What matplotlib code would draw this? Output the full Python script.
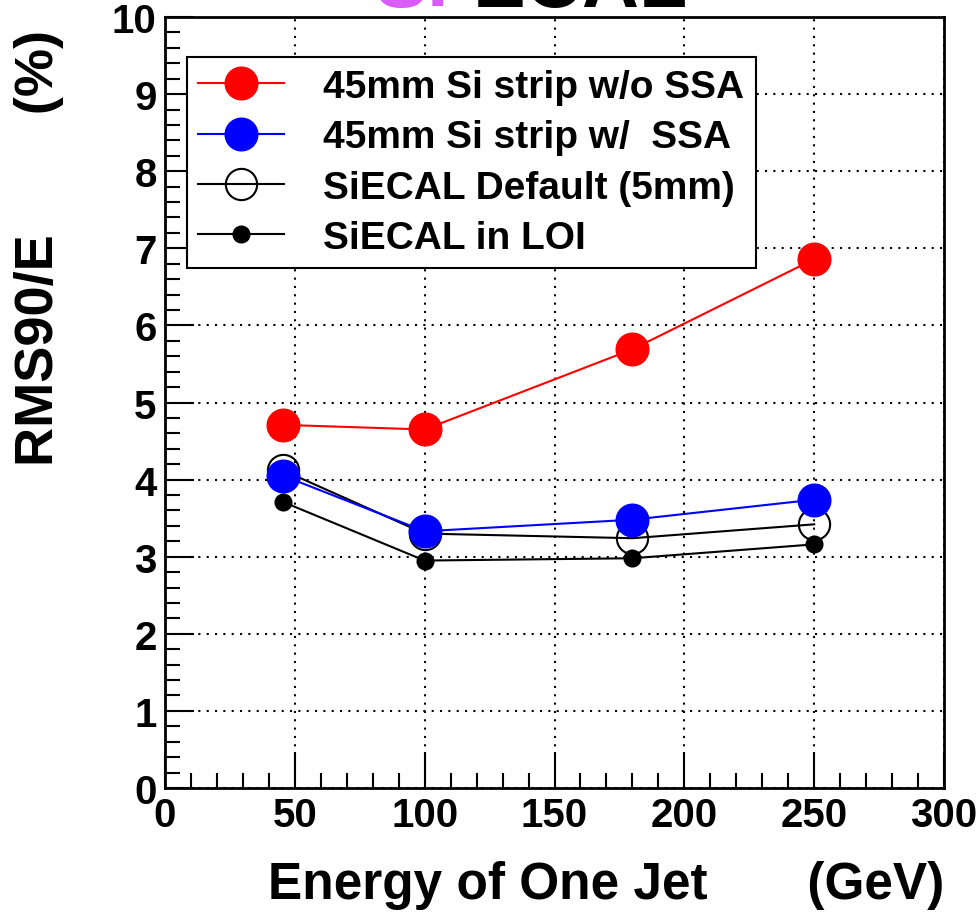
import matplotlib
matplotlib.use("Agg")
import matplotlib.pyplot as plt
from matplotlib.ticker import MultipleLocator

plt.rcParams["font.family"] = ["Liberation Sans", "DejaVu Sans"]
plt.rcParams["font.weight"] = "bold"

# jet energies (GeV)
energy = [45.5, 100, 180, 250]

# RMS90/E (%)
strip_no_ssa = [4.71, 4.65, 5.69, 6.86]
strip_ssa = [4.05, 3.33, 3.48, 3.74]
siecal_default = [4.12, 3.30, 3.24, 3.42]
siecal_loi = [3.71, 2.95, 2.98, 3.16]

labels = [
    "45mm Si strip w/o SSA",
    "45mm Si strip w/  SSA",
    "SiECAL Default (5mm)",
    "SiECAL in LOI",
]

fig = plt.figure(figsize=(9.79, 9.2), dpi=100)
ax = fig.add_axes([0.1685, 0.1424, 0.7958, 0.838])

h_loi, = ax.plot(energy, siecal_loi, color="black", lw=1.5, marker="o",
                 ms=12, mfc="black", mec="black", zorder=3)
h_def, = ax.plot(energy, siecal_default, color="black", lw=1.5, marker="o",
                 ms=22.5, mfc="none", mec="black", mew=1.5, zorder=4)
h_ssa, = ax.plot(energy, strip_ssa, color="blue", lw=1.5, marker="o",
                 ms=23.5, mfc="blue", mec="blue", zorder=5)
h_red, = ax.plot(energy, strip_no_ssa, color="red", lw=1.5, marker="o",
                 ms=23.5, mfc="red", mec="red", zorder=6)

ax.set_xlim(0, 300)
ax.set_ylim(0, 10)
ax.xaxis.set_major_locator(MultipleLocator(50))
ax.xaxis.set_minor_locator(MultipleLocator(10))
ax.yaxis.set_major_locator(MultipleLocator(1))
ax.yaxis.set_minor_locator(MultipleLocator(0.2))
ax.tick_params(which="both", direction="in", top=False, right=False,
               labelsize=29, width=1.5, pad=6)
ax.tick_params(which="major", axis="y", length=21)
ax.tick_params(which="major", axis="x", length=26)
ax.tick_params(which="minor", length=11)
for lbl in ax.get_xticklabels() + ax.get_yticklabels():
    lbl.set_fontweight("bold")
for sp in ax.spines.values():
    sp.set_linewidth(2)

ax.grid(True, which="major", color="black", linestyle=(0, (1, 3)), lw=1.5)
ax.set_axisbelow(True)

ax.set_xlabel("Energy of One Jet       (GeV)", fontsize=37, fontweight="bold",
              ha="right")
ax.xaxis.set_label_coords(1.0, -0.094, transform=ax.transAxes)
ax.xaxis.label.set_va("top")
ax.set_ylabel("RMS90/E        (%)", fontsize=39, fontweight="bold",
              ha="right")
ax.yaxis.set_label_coords(-0.13, 0.984, transform=ax.transAxes)

leg = ax.legend([h_red, h_ssa, h_def, h_loi], labels, loc="upper left",
                bbox_to_anchor=(0.028, 0.948), borderaxespad=0,
                prop={"weight": "bold", "size": 28},
                fancybox=False, framealpha=1, edgecolor="black",
                handlelength=2.2, handletextpad=1.0, labelspacing=0.37,
                borderpad=0.3)
leg.get_frame().set_linewidth(1.5)
leg.set_zorder(10)

# title, mostly cut off at the top of the canvas
fig.text(0.383, 0.992, "Si", color="#d75cf8", fontsize=57, fontweight="bold",
         va="baseline", ha="left")
fig.text(0.483, 0.992, "ECAL", color="black", fontsize=57, fontweight="bold",
         va="baseline", ha="left")

fig.savefig("out.png", dpi=100)
